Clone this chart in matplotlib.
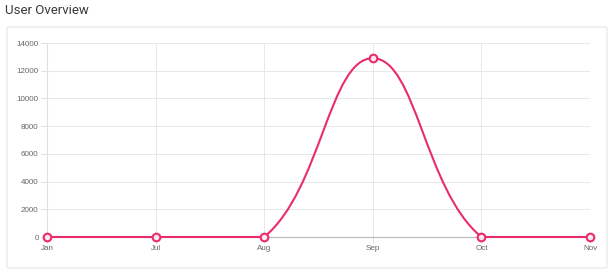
import numpy as np
import matplotlib.pyplot as plt
from matplotlib.path import Path
from matplotlib.patches import PathPatch, FancyBboxPatch

months = ['Jan', 'Jul', 'Aug', 'Sep', 'Oct', 'Nov']
users = [0, 0, 0, 12900, 0, 0]
yticks = [0, 2000, 4000, 6000, 8000, 10000, 12000, 14000]

pink = '#e92c6c'
W, H = 616, 278
fig = plt.figure(figsize=(W/100, H/100), dpi=100)
fig.patch.set_facecolor('white')

# card
card = FancyBboxPatch((7/W, 1-268/H), 600/W, 241/H, boxstyle='round,pad=0,rounding_size=0.004',
                      transform=fig.transFigure, fc='white', ec='#e6e6e6', lw=0.8, zorder=-5)
fig.patches.append(card)
fig.text(5/W, 1-10/H, 'User Overview', fontsize=9.5, color='#3a3a3a', va='center', ha='left',
         family='Roboto')

left, right, top, bot = 47, 590, 43, 237
ax = fig.add_axes([left/W, 1-bot/H, (right-left)/W, (bot-top)/H])
ax.set_zorder(2)
ax.patch.set_alpha(0)
x = np.arange(len(months))
ax.set_xlim(0, len(months)-1)
ax.set_ylim(0, 14000)

# chart.js style bezier (tension 0.4), computed in pixel space
sx = (right-left)/(len(months)-1)
sy = (bot-top)/14000
px = x*sx
py = np.array(users)*sy
t = 0.4
cps = []
for i in range(len(px)):
    pi = max(i-1, 0); ni = min(i+1, len(px)-1)
    d01 = np.hypot(px[i]-px[pi], py[i]-py[pi])
    d12 = np.hypot(px[ni]-px[i], py[ni]-py[i])
    tot = d01 + d12 if d01 + d12 > 0 else 1
    fa, fb = t*d01/tot, t*d12/tot
    dx, dy = px[ni]-px[pi], py[ni]-py[pi]
    c1 = (px[i]-fa*dx, np.clip(py[i]-fa*dy, 0, 14000*sy))
    c2 = (px[i]+fb*dx, np.clip(py[i]+fb*dy, 0, 14000*sy))
    cps.append((c1, c2))
verts = [(x[0], users[0])]
codes = [Path.MOVETO]
for i in range(len(px)-1):
    a = cps[i][1]; b = cps[i+1][0]
    verts += [(a[0]/sx, a[1]/sy), (b[0]/sx, b[1]/sy), (x[i+1], users[i+1])]
    codes += [Path.CURVE4]*3
ax.add_patch(PathPatch(Path(verts, codes), fc='none', ec=pink, lw=1.5, zorder=3, clip_on=False))
ax.plot(x, users, 'o', ms=5.5, mfc='#fde8ef', mec=pink, mew=1.5, zorder=4, clip_on=False)

ax.set_xticks(x)
ax.set_xticklabels(months)
ax.set_yticks(yticks)
ax.set_yticklabels([str(v) for v in yticks])
for lab in ax.get_xticklabels() + ax.get_yticklabels():
    lab.set_family('Liberation Sans')
ax.grid(True, color='#e8e8e8', lw=0.7)
ax.set_axisbelow(True)
for s in ['top', 'right']:
    ax.spines[s].set_visible(False)
ax.spines['left'].set_color('#e0e0e0')
ax.spines['bottom'].set_color('#b8b8b8')
ax.tick_params(length=4, width=0.7, color='#e0e0e0', labelsize=5.8, labelcolor='#666666', pad=2)

plt.savefig('out.png', dpi=100)
